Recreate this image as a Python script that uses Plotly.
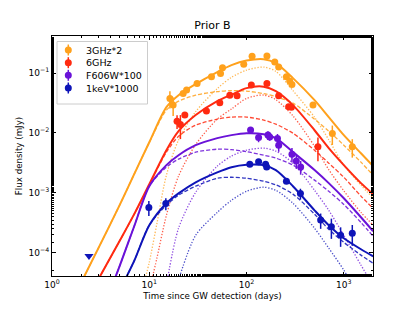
import plotly.graph_objects as go

# ---------------- data ----------------
orange_t = [16.3, 17.6, 22.3, 24.2, 31.0, 43.6, 54.0, 56.6, 93.6, 114, 162, 195, 214, 257, 278, 293, 482, 762, 1222]
orange_f = [0.0377, 0.0292, 0.0458, 0.052, 0.0673, 0.0867, 0.0989, 0.1227, 0.14, 0.192, 0.194, 0.154, 0.127, 0.0867, 0.0735, 0.0647, 0.0292, 0.0098, 0.00587]
orange_err = [0.012, 0.010, 0.004, 0.004, 0.004, 0.005, 0.006, 0.007, 0.008, 0.01, 0.01, 0.009, 0.008, 0.006, 0.005, 0.005, 0.003, 0.0035, 0.002]

red_t = [19.3, 20.9, 23.2, 38.7, 53.1, 67.3, 79.9, 112, 162, 214, 271, 289, 542]
red_f = [0.0157, 0.0139, 0.0199, 0.0232, 0.0319, 0.0428, 0.0417, 0.063, 0.0673, 0.0417, 0.0273, 0.027, 0.00587]
red_err = [0.004, 0.006, 0.002, 0.002, 0.002, 0.002, 0.002, 0.003, 0.003, 0.003, 0.002, 0.002, 0.0025]

purple_t = [110, 133, 166, 173, 208, 214, 293, 325, 360]
purple_f = [0.0112, 0.0084, 0.0092, 0.0086, 0.0081, 0.00625, 0.00442, 0.00341, 0.00271]
purple_err = [0.0012, 0.0014, 0.0015, 0.0012, 0.0015, 0.0014, 0.0012, 0.0009, 0.0007]

blue_t = [9.9, 14.8, 108, 133, 157, 161, 257, 358, 578, 745, 927, 1222]
blue_f = [5.7e-4, 6.6e-4, 3.0e-3, 3.3e-3, 3.0e-3, 2.7e-3, 1.56e-3, 9.7e-4, 3.5e-4, 2.7e-4, 1.95e-4, 2.1e-4]
blue_err = [1.6e-4, 1.5e-4, 2e-4, 2e-4, 2e-4, 2e-4, 1.3e-4, 2e-4, 1e-4, 1e-4, 7e-5, 8e-5]

ul_t = [2.4]
ul_f = [8.8e-5]

# model curves (total = solid, component 1 = dashed, component 2 = dotted)
orange_solid_t = [2, 3, 5, 7, 10, 15, 20, 30, 50, 70, 100, 150, 200, 300, 500, 700, 1000, 1500, 2000]
orange_solid_f = [3.2e-5, 1.19e-4, 6.4e-4, 2.05e-3, 7.0e-3, 0.027, 0.0428, 0.0655, 0.104, 0.136, 0.162, 0.171, 0.147, 0.0824, 0.0353, 0.0184, 0.00919, 0.00459, 0.00279]
orange_dash_t = [2, 3, 5, 7, 10, 15, 20, 30, 50, 70, 100, 150, 200, 300, 500, 700, 1000, 1500, 2000]
orange_dash_f = [3.2e-5, 1.19e-4, 6.4e-4, 2.05e-3, 6.9e-3, 0.024, 0.034, 0.0428, 0.0491, 0.051, 0.050, 0.0454, 0.0405, 0.0315, 0.0170, 0.0107, 0.00625, 0.00325, 0.00197]
orange_dot_t = [9, 10, 12, 15, 20, 30, 50, 70, 100, 150, 200, 300, 500, 700, 1000, 1500, 2000]
orange_dot_f = [3.5e-5, 6.9e-5, 3.1e-4, 1.97e-3, 7.6e-3, 0.0227, 0.055, 0.085, 0.112, 0.126, 0.107, 0.051, 0.0183, 0.0077, 0.0029, 0.00134, 0.00082]

red_solid_t = [3, 5, 7, 10, 15, 20, 30, 50, 70, 100, 150, 200, 300, 500, 700, 1000, 1500, 2000]
red_solid_f = [3.6e-5, 1.61e-4, 4.4e-4, 1.39e-3, 5.15e-3, 0.0107, 0.0199, 0.034, 0.0436, 0.0561, 0.0594, 0.050, 0.0292, 0.0111, 0.00557, 0.0029, 0.00145, 0.00095]
red_dash_t = [3, 5, 7, 10, 15, 20, 30, 50, 70, 100, 150, 200, 300, 500, 700, 1000, 1500, 2000]
red_dash_f = [3.6e-5, 1.61e-4, 4.4e-4, 1.37e-3, 4.77e-3, 8.8e-3, 0.0135, 0.0170, 0.0184, 0.0184, 0.0164, 0.0140, 0.0099, 0.00515, 0.00313, 0.00182, 8.8e-4, 5.5e-4]
red_dot_t = [10, 12, 15, 20, 30, 50, 70, 100, 150, 200, 300, 500, 700, 1000, 1500, 2000]
red_dot_f = [2.3e-5, 8.2e-5, 4.2e-4, 1.9e-3, 6.4e-3, 0.017, 0.0252, 0.0377, 0.043, 0.036, 0.0193, 0.006, 0.00244, 0.00108, 4.7e-4, 2.9e-4]

purple_solid_t = [4, 5, 7, 10, 15, 20, 30, 50, 70, 100, 150, 200, 300, 500, 700, 1000, 1500, 2000]
purple_solid_f = [2.4e-5, 6.2e-5, 2.76e-4, 1.29e-3, 2.9e-3, 4.25e-3, 6.25e-3, 8.2e-3, 9.2e-3, 9.9e-3, 9.55e-3, 8.2e-3, 4.8e-3, 2.4e-3, 1.45e-3, 8.1e-4, 3.9e-4, 2.28e-4]
purple_dash_t = [4, 5, 7, 10, 15, 20, 30, 50, 70, 100, 150, 200, 300, 500, 700, 1000, 1500, 2000]
purple_dash_f = [2.4e-5, 6.2e-5, 2.76e-4, 1.29e-3, 2.68e-3, 3.65e-3, 4.77e-3, 5.36e-3, 5.26e-3, 4.87e-3, 4.25e-3, 3.8e-3, 2.9e-3, 1.63e-3, 1.06e-3, 6.4e-4, 3.2e-4, 1.88e-4]
purple_dot_t = [15, 20, 30, 50, 70, 100, 150, 200, 300, 500, 700, 1000, 1500, 2000]
purple_dot_f = [2.85e-5, 2.56e-4, 1.02e-3, 2.79e-3, 4.1e-3, 5.15e-3, 5.57e-3, 4.97e-3, 3.13e-3, 1.1e-3, 5.1e-4, 1.95e-4, 6.2e-5, 2.85e-5]

blue_solid_t = [5, 7, 10, 15, 20, 30, 50, 70, 100, 150, 200, 300, 500, 700, 1000, 1500, 2000]
blue_solid_f = [2.4e-5, 7.3e-5, 2.87e-4, 6.7e-4, 9.8e-4, 1.5e-3, 2.2e-3, 2.68e-3, 2.95e-3, 2.9e-3, 2.39e-3, 1.29e-3, 5.1e-4, 2.87e-4, 1.74e-4, 1.14e-4, 8.7e-5]
blue_dash_t = [5, 7, 10, 15, 20, 30, 50, 70, 100, 150, 200, 300, 500, 700, 1000, 1500, 2000]
blue_dash_f = [2.4e-5, 7.3e-5, 2.87e-4, 6.2e-4, 9.1e-4, 1.29e-3, 1.75e-3, 1.82e-3, 1.75e-3, 1.56e-3, 1.36e-3, 9.5e-4, 4.4e-4, 2.46e-4, 1.49e-4, 9.1e-5, 6.65e-5]
blue_dot_t = [20, 30, 50, 70, 100, 150, 200, 300, 500, 700, 1000, 1500]
blue_dot_f = [3.5e-5, 1.95e-4, 4.7e-4, 7.5e-4, 1.06e-3, 1.24e-3, 1.1e-3, 6.7e-4, 2.56e-4, 1.19e-4, 5.1e-5, 1.6e-5]

labels = ["3GHz*2", "6GHz", "F606W*100", "1keV*1000"]
colors = ["#FFA11C", "#FF2A10", "#6A12D8", "#0E14B8"]

x_ticks = [1, 10, 100, 1000]
x_tick_text = ["10<sup>0</sup>", "10<sup>1</sup>", "10<sup>2</sup>", "10<sup>3</sup>"]
y_ticks = [1e-4, 1e-3, 1e-2, 1e-1]
y_tick_text = ["10<sup>\u22124</sup>", "10<sup>\u22123</sup>", "10<sup>\u22122</sup>", "10<sup>\u22121</sup>"]

# ---------------- layout geometry (pixels) ----------------
W, H = 415, 311
ML, MR, MT, MB = 52, 42, 36, 35
PW, PH = W - ML - MR, H - MT - MB


def px_x(p):
    return (p - ML) / PW


def px_y(p):
    return 1 - (p - MT) / PH


# ---------------- figure ----------------
fig = go.Figure()

curves = [
    (orange_solid_t, orange_solid_f, orange_dash_t, orange_dash_f, orange_dot_t, orange_dot_f),
    (red_solid_t, red_solid_f, red_dash_t, red_dash_f, red_dot_t, red_dot_f),
    (purple_solid_t, purple_solid_f, purple_dash_t, purple_dash_f, purple_dot_t, purple_dot_f),
    (blue_solid_t, blue_solid_f, blue_dash_t, blue_dash_f, blue_dot_t, blue_dot_f),
]

for (st, sf, dt, df, ot, of), c in zip(curves, colors):
    fig.add_trace(go.Scatter(x=ot, y=of, mode="lines", showlegend=False, opacity=0.75,
                             line=dict(color=c, width=1.3, dash="1.3px,1.7px", shape="spline", smoothing=0.8),
                             hoverinfo="skip"))
    fig.add_trace(go.Scatter(x=dt, y=df, mode="lines", showlegend=False, opacity=0.85,
                             line=dict(color=c, width=1.3, dash="4px,2px", shape="spline", smoothing=0.8),
                             hoverinfo="skip"))
    fig.add_trace(go.Scatter(x=st, y=sf, mode="lines", showlegend=False,
                             line=dict(color=c, width=2, shape="spline", smoothing=0.8),
                             hoverinfo="skip"))

points = [(orange_t, orange_f, orange_err), (red_t, red_f, red_err),
          (purple_t, purple_f, purple_err), (blue_t, blue_f, blue_err)]
for (t, f, e), c, lab in zip(points, colors, labels):
    fig.add_trace(go.Scatter(x=t, y=f, mode="markers", name=lab, showlegend=False,
                             marker=dict(color=c, size=7),
                             error_y=dict(type="data", array=e, color=c, thickness=1.5, width=0)))

fig.add_trace(go.Scatter(x=ul_t, y=ul_f, mode="markers", showlegend=False,
                         marker=dict(color=colors[3], size=8, symbol="triangle-down")))

# ---------------- legend (drawn as shapes + text, matplotlib-like) ----------------
shapes = [dict(type="rect", xref="paper", yref="paper",
               x0=px_x(57), x1=px_x(147.5), y0=px_y(104), y1=px_y(41.5),
               line=dict(color="#cccccc", width=1), fillcolor="rgba(255,255,255,0.85)", layer="above")]
annotations = []
row_y = [50, 62.7, 75.3, 88]
mx, tx = 68.3, 84
for ry, c, lab in zip(row_y, colors, labels):
    shapes.append(dict(type="line", xref="paper", yref="paper", x0=px_x(mx), x1=px_x(mx),
                       y0=px_y(ry - 5.5), y1=px_y(ry + 5.5), line=dict(color=c, width=1.5), layer="above"))
    shapes.append(dict(type="circle", xref="paper", yref="paper", x0=px_x(mx - 3.5), x1=px_x(mx + 3.5),
                       y0=px_y(ry + 3.5), y1=px_y(ry - 3.5), fillcolor=c, line=dict(color=c, width=0),
                       layer="above"))
    annotations.append(dict(text=lab, xref="paper", yref="paper", x=px_x(tx), y=px_y(ry),
                            xanchor="left", yanchor="middle", showarrow=False,
                            font=dict(family="DejaVu Sans", size=9.5, color="black")))

axis_common = dict(
    type="log", showgrid=False, zeroline=False, showline=True, linecolor="black", linewidth=1,
    mirror="allticks", ticks="inside", ticklen=4, tickwidth=1, tickcolor="black", automargin=False,
    tickfont=dict(family="DejaVu Sans", size=9, color="black"),
    minor=dict(ticks="inside", ticklen=2, tickcolor="black", showgrid=False),
)

fig.update_layout(
    width=W, height=H,
    margin=dict(l=ML, r=MR, t=MT, b=MB, autoexpand=False),
    paper_bgcolor="white", plot_bgcolor="white",
    font=dict(family="DejaVu Sans", size=10, color="black"),
    title=dict(text="Prior B", x=(ML + W - MR) / 2 / W, xanchor="center", y=1 - 25 / H, yanchor="middle",
               font=dict(size=11)),
    xaxis=dict(axis_common, range=[0, 3.3], tickvals=x_ticks, ticktext=x_tick_text,
               title=dict(text="Time since GW detection (days)", font=dict(size=8.7), standoff=4)),
    yaxis=dict(axis_common, range=[-4.39, -0.38], tickvals=y_ticks, ticktext=y_tick_text,
               title=dict(text="Flux density (mJy)", font=dict(size=8.7), standoff=4)),
    shapes=shapes,
    annotations=annotations,
    showlegend=False,
)

fig.write_html("out.html", config={"displayModeBar": False},
               post_script="document.body.style.margin='0px';document.body.style.overflow='hidden';")
